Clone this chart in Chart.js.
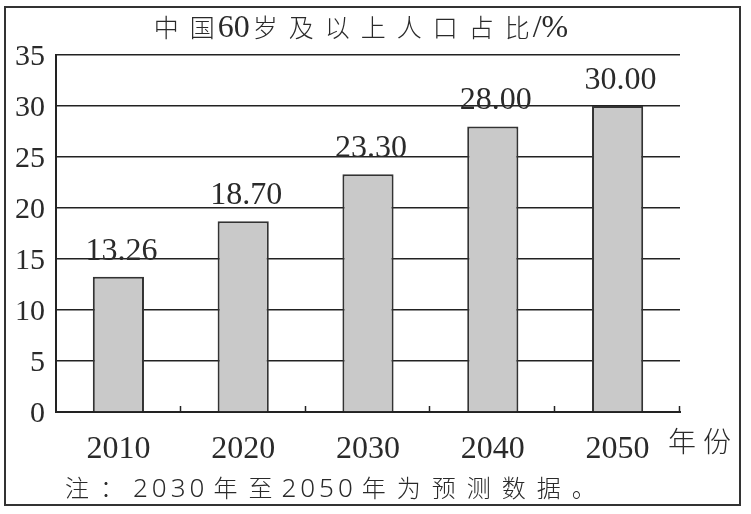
<!DOCTYPE html>
<html><head><meta charset="utf-8">
<script src="https://cdn.jsdelivr.net/npm/chart.js@4/dist/chart.umd.min.js"></script>
<style>html,body{margin:0;padding:0;background:#fff}#wrap{width:751px;height:514px;position:relative}</style>
</head><body><div id="wrap"><canvas id="c" width="751" height="514"></canvas></div>
<script>
const categories = ['2010', '2020', '2030', '2040', '2050'];
const values = [13.26, 18.70, 23.30, 28.00, 30.00];
const valueLabels = ['13.26', '18.70', '23.30', '28.00', '30.00'];
const yTicks = [0, 5, 10, 15, 20, 25, 30, 35];
const titleText = '中国60岁及以上人口占比/%';
const xAxisUnit = '年份';
const noteText = '注：2030年至2050年为预测数据。';

const TEXT = '#2a2a2a';
const LINE = '#222';

function isCJK(ch) { return ch.charCodeAt(0) >= 0x2E80; }

// draws text char by char with separate gaps for CJK pairs, latin pairs, and mixed transitions
function drawMixed(ctx, text, x, y, cjkFont, latinFont, cjkGap, latinGap, mixGap, align) {
  ctx.textAlign = 'left';
  ctx.textBaseline = 'alphabetic';
  const chars = Array.from(text);
  const items = chars.map((ch, i) => {
    const cjk = isCJK(ch);
    ctx.font = cjk ? cjkFont : latinFont;
    const w = ctx.measureText(ch).width;
    let gap = 0;
    if (i < chars.length - 1) {
      const nextCjk = isCJK(chars[i + 1]);
      gap = (cjk && nextCjk) ? cjkGap : (!cjk && !nextCjk) ? latinGap : mixGap;
    }
    return { ch, cjk, w, gap };
  });
  const total = items.reduce((s, it) => s + it.w + it.gap, 0);
  let cx = align === 'center' ? x - total / 2 : x;
  items.forEach(it => {
    ctx.font = it.cjk ? cjkFont : latinFont;
    ctx.fillText(it.ch, cx, y);
    cx += it.w + it.gap;
  });
}

const decor = {
  id: 'decor',
  afterDraw(chart) {
    const ctx = chart.ctx, ca = chart.chartArea, xs = chart.scales.x;
    ctx.save();
    // outer frame
    ctx.strokeStyle = '#333';
    ctx.lineWidth = 2;
    ctx.strokeRect(5, 7, 735, 498);
    // small tick marks at category boundaries
    ctx.strokeStyle = LINE;
    ctx.lineWidth = 1.5;
    const step = xs.getPixelForValue(1) - xs.getPixelForValue(0);
    for (let i = 0; i < categories.length; i++) {
      const x = Math.round(xs.getPixelForValue(i) + step / 2) - 0.5;
      ctx.beginPath();
      ctx.moveTo(x, ca.bottom);
      ctx.lineTo(x, ca.bottom - 6);
      ctx.stroke();
    }
    // value labels
    ctx.fillStyle = TEXT;
    ctx.font = '32px "Liberation Serif"';
    ctx.textAlign = 'center';
    ctx.textBaseline = 'alphabetic';
    chart.getDatasetMeta(0).data.forEach((bar, i) => {
      ctx.fillText(valueLabels[i], bar.x + 3, bar.y - 17);
    });
    // title
    drawMixed(ctx, titleText, 361, 37, '300 25px "Noto Sans CJK SC"', '32px "Liberation Serif"', 11, 0, 3, 'center');
    // x unit
    drawMixed(ctx, xAxisUnit, 668, 452, '300 28px "Noto Sans CJK SC"', '28px "Liberation Serif"', 7, 0, 0, 'left');
    // note
    drawMixed(ctx, noteText, 65, 497, '300 24px "Noto Sans CJK SC"', '300 26px "Noto Sans"', 11, 4, 9, 'left');
    ctx.restore();
  }
};

new Chart(document.getElementById('c'), {
  type: 'bar',
  data: {
    labels: categories,
    datasets: [{
      data: values,
      backgroundColor: '#c9c9c9',
      borderColor: '#333',
      borderWidth: 2,
      categoryPercentage: 1,
      barPercentage: 0.41
    }]
  },
  options: {
    responsive: false,
    animation: false,
    layout: { padding: { top: 55, right: 71, bottom: 0, left: 0 } },
    plugins: { legend: { display: false }, title: { display: false }, tooltip: { enabled: false } },
    scales: {
      x: {
        grid: { display: false },
        border: { display: true, color: LINE, width: 2 },
        ticks: { color: TEXT, font: { family: 'Liberation Serif', size: 32 }, padding: 10, maxRotation: 0 },
        afterFit(scale) { scale.height = 102; }
      },
      y: {
        min: 0, max: 35,
        afterBuildTicks(scale) { scale.ticks = yTicks.map(v => ({ value: v })); },
        grid: { color: LINE, lineWidth: 1.5, drawTicks: false },
        border: { display: true, color: LINE, width: 2 },
        ticks: { color: TEXT, font: { family: 'Liberation Serif', size: 30 }, padding: 11, labelOffset: 2 },
        afterFit(scale) { scale.width = 56; }
      }
    }
  },
  plugins: [decor]
});
</script>
</body></html>
